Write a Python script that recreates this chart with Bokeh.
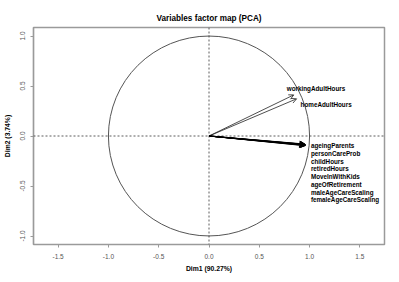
import numpy as np
from bokeh.plotting import figure
from bokeh.models import (Range1d, Span, Arrow, OpenHead, ColumnDataSource, FixedTicker,
                          NumeralTickFormatter, LabelSet)
from bokeh.embed import file_html
from bokeh.resources import INLINE
from bokeh.core.properties import value

# Variable coordinates (Dim1, Dim2)
upper_names = ["workingAdultHours", "homeAdultHours"]
upper_dim1 = [0.843, 0.871]
upper_dim2 = [0.411, 0.372]

bundle_names = ["ageingParents", "personCareProb", "childHours", "retiredHours",
                "MoveInWithKids", "ageOfRetirement", "maleAgeCareScaling", "femaleAgeCareScaling"]
bundle_dim1 = [0.960, 0.955, 0.950, 0.958, 0.945, 0.962, 0.952, 0.948]
bundle_dim2 = [-0.085, -0.090, -0.080, -0.095, -0.088, -0.092, -0.083, -0.097]

ticks = [-1.5, -1.0, -0.5, 0.0, 0.5, 1.0, 1.5]
yticks = [-1.0, -0.5, 0.0, 0.5, 1.0]

FONT = "Liberation Sans"

p = figure(width=391, height=274, output_backend="svg", toolbar_location=None,
           x_range=Range1d(-1.745, 1.745), y_range=Range1d(-1.085, 1.085),
           title="Variables factor map (PCA)",
           x_axis_label="Dim1 (90.27%)", y_axis_label="Dim2 (3.74%)")
p.min_border_left = 28
p.min_border_right = 7
p.min_border_top = 27
p.min_border_bottom = 28
p.background_fill_color = "white"
p.border_fill_color = "white"
p.outline_line_color = "#9a9a9a"
p.outline_line_width = 1.5
p.grid.visible = False

p.title.text_font = FONT
p.title.text_font_size = "8.2px"
p.title.text_font_style = "bold"
p.title.text_color = "black"
p.title.align = "center"
p.title.offset = 0
p.title.standoff = 9

for ax in (p.xaxis[0], p.yaxis[0]):
    ax.axis_line_color = "#9a9a9a"
    ax.axis_line_width = 1.2
    ax.major_tick_line_color = "#9a9a9a"
    ax.major_tick_in = 0
    ax.major_tick_out = 3
    ax.minor_tick_line_color = None
    ax.major_label_text_font = FONT
    ax.major_label_text_font_size = "6.5px"
    ax.major_label_text_color = "#555555"
    ax.axis_label_text_font = FONT
    ax.axis_label_text_font_size = "6.8px"
    ax.axis_label_text_font_style = "bold"
    ax.axis_label_text_color = "black"
    ax.formatter = NumeralTickFormatter(format="0.0")

p.xaxis[0].ticker = FixedTicker(ticks=ticks)
p.yaxis[0].ticker = FixedTicker(ticks=yticks)
p.xaxis[0].major_label_standoff = 6
p.xaxis[0].axis_label_standoff = 3
p.yaxis[0].major_label_orientation = "vertical"
p.yaxis[0].major_label_standoff = 6
p.yaxis[0].axis_label_standoff = 6

# reference lines
p.add_layout(Span(location=0, dimension="width", line_color="#333333", line_dash="2 2", line_width=0.8))
p.add_layout(Span(location=0, dimension="height", line_color="#333333", line_dash="2 2", line_width=0.8))

# unit circle
p.ellipse(x=[0], y=[0], width=[2], height=[2], fill_color=None, line_color="#555555", line_width=1)

# arrows
up_src = ColumnDataSource(dict(x0=[0]*len(upper_dim1), y0=[0]*len(upper_dim1), x1=upper_dim1, y1=upper_dim2))
p.add_layout(Arrow(end=OpenHead(size=5, line_width=0.8, line_color="#222222"),
                   x_start="x0", y_start="y0", x_end="x1", y_end="y1",
                   line_width=0.8, line_color="#222222", source=up_src))
b_src = ColumnDataSource(dict(x0=[0]*len(bundle_dim1), y0=[0]*len(bundle_dim1), x1=bundle_dim1, y1=bundle_dim2))
p.add_layout(Arrow(end=OpenHead(size=5, line_width=1, line_color="black"),
                   x_start="x0", y_start="y0", x_end="x1", y_end="y1",
                   line_width=1, line_color="black", source=b_src))

text_style = dict(text_font=value(FONT), text_font_size=value("6.3px"), text_font_style=value("bold"),
                  text_align=value("left"), text_baseline=value("middle"), text_color=value("black"))

# labels
lab_up = ColumnDataSource(dict(x=upper_dim1, y=upper_dim2, t=upper_names,
                               xo=[-7, 4], yo=[6, -6]))
p.add_layout(LabelSet(x="x", y="y", text="t", x_offset="xo", y_offset="yo", source=lab_up, **text_style))

n = len(bundle_names)
lab_b = ColumnDataSource(dict(x=[float(np.mean(bundle_dim1))] * n, y=[float(np.mean(bundle_dim2))] * n,
                              t=bundle_names, yo=list(-(np.arange(n) * 7.7 + 1))))
p.add_layout(LabelSet(x="x", y="y", text="t", x_offset=6, y_offset="yo", source=lab_b, **text_style))

open("out.html", "w").write(file_html(p, INLINE))
